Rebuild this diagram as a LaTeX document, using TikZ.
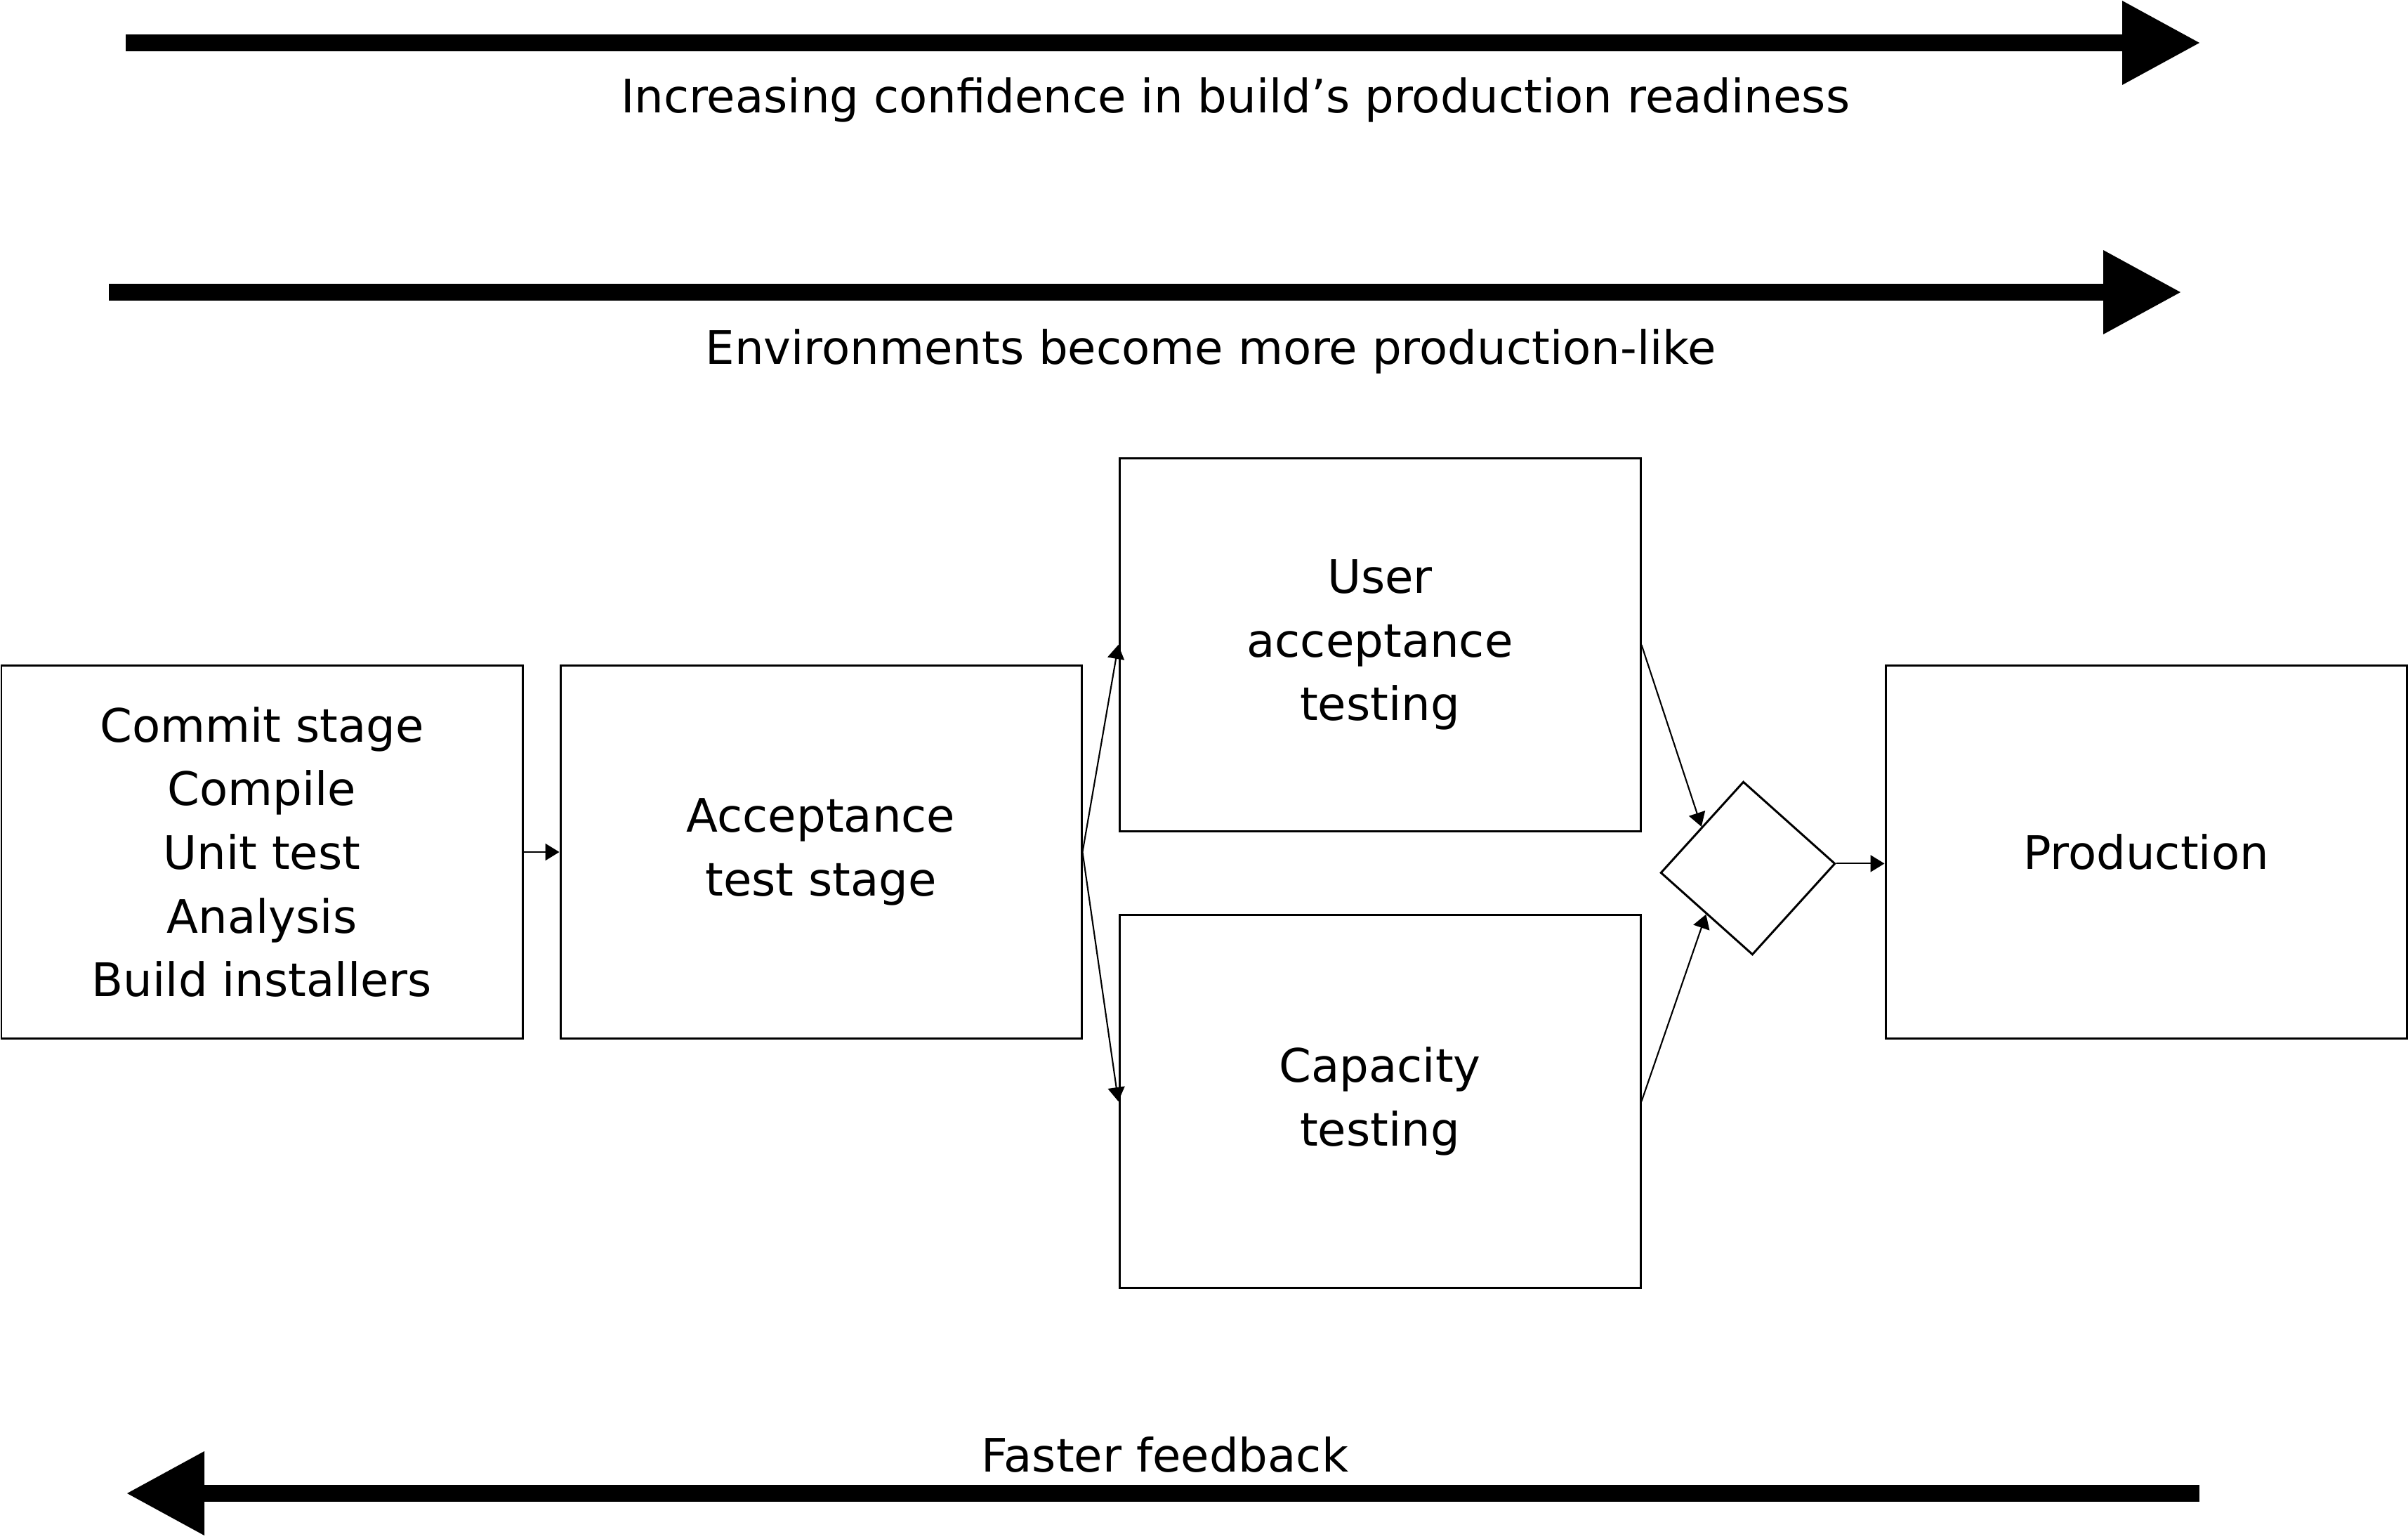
\documentclass[tikz,border=0pt]{standalone}
\usepackage{fontspec}
\setmainfont{DejaVu Sans}
\usetikzlibrary{arrows.meta,shapes.geometric}

\tikzset{
  stage/.style={draw,line width=0.85pt,minimum width=7.42cm,minimum height=5.31cm,
    align=center,font=\fontsize{18.7}{25.8}\selectfont},
  flow/.style={-{Triangle[length=0.2cm,width=0.24cm]},line width=0.6pt},
  bigarrow/.style={-{Triangle[length=1.1cm,width=1.2cm,line width=0pt]},line width=0.24cm},
  caption/.style={font=\fontsize{18.7}{25.8}\selectfont}
}

\begin{document}
\begin{tikzpicture}
        \useasboundingbox (0,0) rectangle (34.29,-21.91);
        % Fleches larges du haut
        \coordinate (conf start) at (1.79,-0.61);
        \coordinate (conf end) at (31.32,-0.61);
        \draw[bigarrow] (conf start) -- (conf end);
        \node[caption] (conf) at (17.59,-1.42) {Increasing confidence in build’s production readiness};
        \coordinate (env start) at (1.55,-4.16);
        \coordinate (env end) at (31.05,-4.16);
        \draw[bigarrow] (env start) -- (env end);
        \node[caption] (env) at (17.24,-5.0) {Environments become more production-like};
        % Etapes du pipeline
        \node[stage] (commit) at (3.73,-12.13) {Commit stage\\Compile\\Unit test\\Analysis\\Build installers};
        \node[stage] (accept) at (11.69,-12.13) {Acceptance\\test stage};
        \node[stage] (uat) at (19.65,-9.18) {User\\acceptance\\testing};
        \node[stage] (cap) at (19.65,-15.68) {Capacity\\testing};
        \node[stage] (prod) at (30.56,-12.13) {Production};
        % Losange de decision
        \node[draw,diamond,line width=0.85pt,minimum width=2.49cm,minimum height=2.47cm,
          inner sep=0pt,rotate=3] (dia) at (24.89,-12.36) {};
        % Liaisons
        \draw[flow] (commit) -- (accept);
        \draw[flow] (accept.east) -- (uat.west);
        \draw[flow] (accept.east) -- (cap.west);
        \draw[flow] (uat.east) -- (dia.north west);
        \draw[flow] (cap.east) -- (dia.south west);
        \draw[flow] (dia.east) -- (dia.east -| prod.west);
        % Fleche du bas (retour)
        \coordinate (fast start) at (31.32,-21.26);
        \coordinate (fast end) at (1.81,-21.26);
        \draw[bigarrow] (fast start) -- (fast end);
        \node[caption] (fast) at (16.59,-20.71) {Faster feedback};
\end{tikzpicture}
\end{document}
